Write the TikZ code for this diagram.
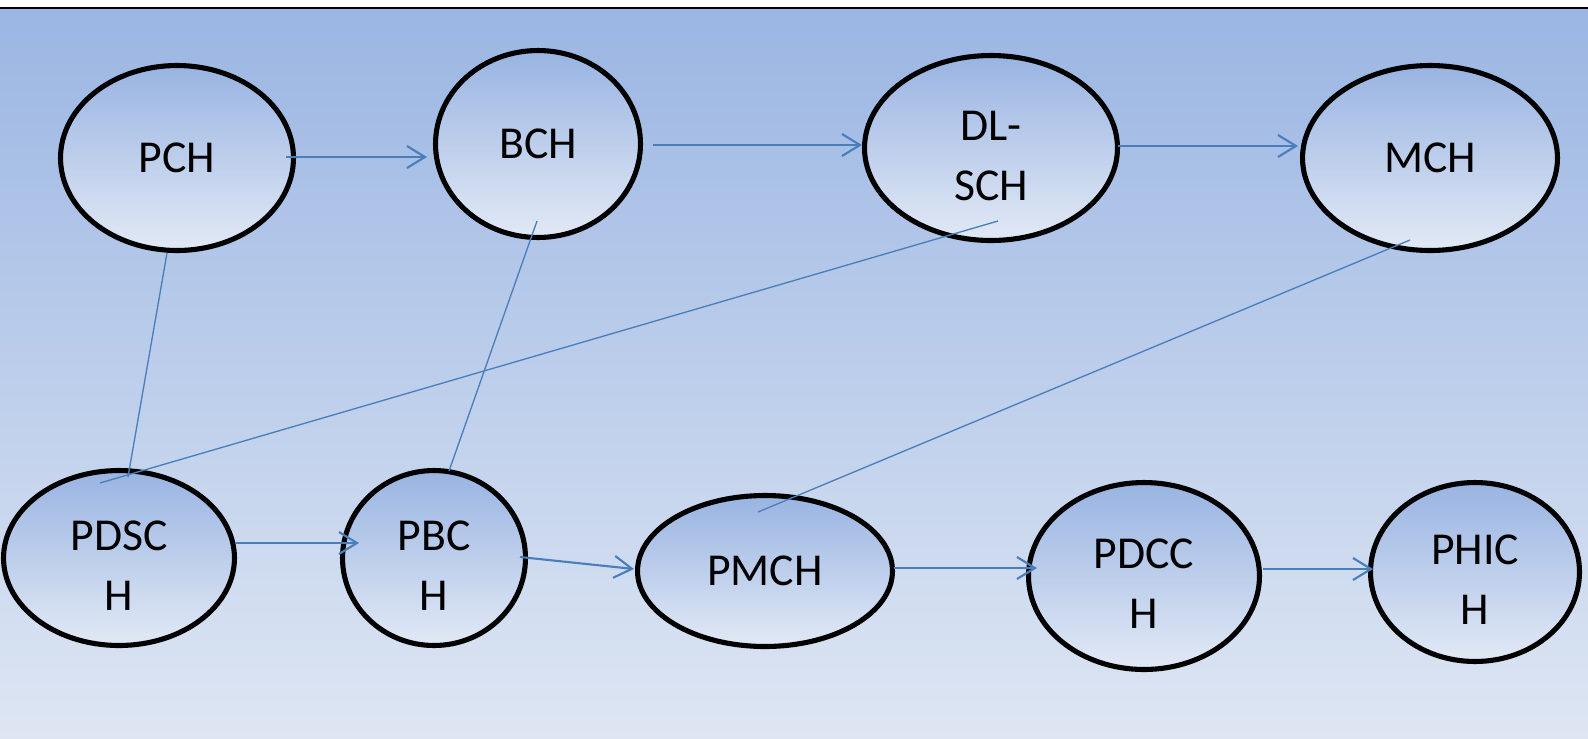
\documentclass[tikz,border=0pt]{standalone}
\usepackage{fontspec}
\setmainfont{Carlito}
\usetikzlibrary{shapes.geometric, arrows.meta, calc}

\definecolor{linkblue}{HTML}{4A7EBB}
\definecolor{bgtop}{HTML}{9BB6E3}
\definecolor{bgbot}{HTML}{DEE6F3}
\definecolor{chtop}{HTML}{99B4E2}
\definecolor{chbot}{HTML}{E2E9F5}

\newcommand{\toprow}{\rule{0pt}{26pt}}

\tikzset{
  chan/.style={ellipse, draw=black, line width=2.9pt, top color=chtop, bottom color=chbot,
    align=center, inner sep=0pt, font=\fontsize{26}{34}\selectfont},
  flow/.style={-{Straight Barb[length=0.36cm,width=0.44cm]}, draw=linkblue, line width=1.2pt},
  tie/.style={draw=linkblue, line width=0.75pt}
}

\begin{document}
\begin{tikzpicture}[x=0.02cm, y=-0.02cm]
\useasboundingbox (0,0) rectangle (1588,738);

% background
\shade[top color=bgtop, bottom color=bgbot] (0,9) rectangle (1588,738);
\draw[line width=1.1pt] (0,8) -- (1588,8);

% upper row
\node[chan, minimum width=4.66cm, minimum height=3.70cm] (pch) at (177,158) {PCH};
\node[chan, minimum width=4.10cm, minimum height=3.74cm] (bch) at (538,144) {BCH};
\node[chan, minimum width=5.06cm, minimum height=3.70cm] (dlsch) at (991,148) {\toprow DL-\\SCH};
\node[chan, minimum width=5.10cm, minimum height=3.70cm] (mch) at (1430,158) {MCH};

% lower row
\node[chan, minimum width=4.62cm, minimum height=3.50cm] (pdsch) at (119,558) {\toprow PDSC\\H};
\node[chan, minimum width=3.66cm, minimum height=3.50cm] (pbch) at (434,558) {\toprow PBC\\H};
\node[chan, minimum width=5.10cm, minimum height=3.02cm] (pmch) at (765,571) {PMCH};
\node[chan, minimum width=4.62cm, minimum height=3.74cm] (pdcch) at (1144,576) {\toprow PDCC\\H};
\node[chan, minimum width=4.18cm, minimum height=3.58cm] (phich) at (1475,572) {\toprow PHIC\\H};

% flows along the rows
\draw[flow] ($(pch)+(109,-1)$) -- ($(bch)+(-111,13)$);
\draw[flow] ($(bch)+(115,1)$) -- ($(dlsch)+(-129,-3)$);
\draw[flow] ($(dlsch)+(127,-2)$) -- ($(mch)+(-132,-12)$);
\draw[flow] ($(pdsch)+(116,-15)$) -- ($(pbch)+(-75,-15)$);
\draw[flow] ($(pbch)+(86,-1)$) -- ($(pmch)+(-131,-2)$);
\draw[flow] ($(pmch)+(129,-3)$) -- ($(pdcch)+(-107,-8)$);
\draw[flow] ($(pdcch)+(119,-7)$) -- ($(phich)+(-102,-3)$);

% mapping lines between rows
\draw[tie] ($(pch)+(-10,95)$) -- ($(pdsch)+(9,-81)$);
\draw[tie] ($(bch)+(-1,77)$) -- ($(pbch)+(15,-87)$);
\draw[tie] ($(dlsch)+(7,73)$) -- ($(pdsch)+(-19,-75)$);
\draw[tie] ($(mch)+(-20,82)$) -- ($(pmch)+(-7,-59)$);

\end{tikzpicture}
\end{document}
